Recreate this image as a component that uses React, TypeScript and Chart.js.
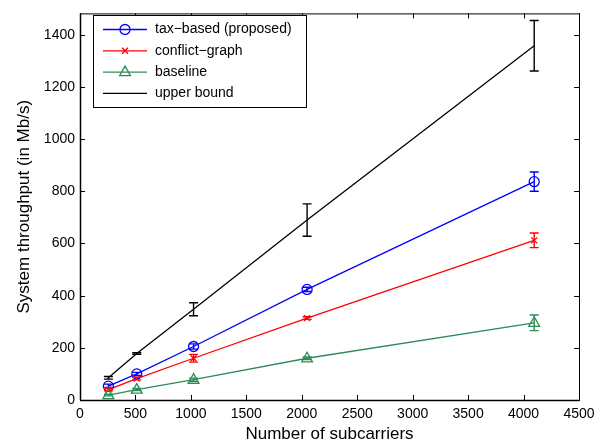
import React, { useEffect, useRef } from "react";
import { Chart, registerables } from "chart.js";

Chart.register(...registerables);

const subcarriers = [256, 512, 1024, 2048, 4096];
const taxBased = [53, 100, 205, 424, 837];
const taxBasedErr = [8, 6, 10, 8, 37];
const conflictGraph = [40, 82, 160, 314, 612];
const conflictGraphErr = [5, 5, 15, 5, 28];
const baseline = [19, 40, 78, 160, 296];
const baselineErr = [3, 4, 6, 5, 30];
const upperBound = [85, 178, 348, 690, 1358];
const upperBoundErr = [5, 3, 25, 62, 97];
const xTicks = [0, 500, 1000, 1500, 2000, 2500, 3000, 3500, 4000, 4500];
const yTicks = [0, 200, 400, 600, 800, 1000, 1200, 1400];

const FONT = "'Liberation Sans', Arial, Helvetica, sans-serif";
const BLUE = "#0000ff";
const RED = "#ff0000";
const GREEN = "#2e8b57";
const BLACK = "#000000";

const seriesDefs = [
  { label: "tax\u2212based (proposed)", values: taxBased, errs: taxBasedErr, color: BLUE, marker: "circle" },
  { label: "conflict\u2212graph", values: conflictGraph, errs: conflictGraphErr, color: RED, marker: "cross" },
  { label: "baseline", values: baseline, errs: baselineErr, color: GREEN, marker: "triangle" },
  { label: "upper bound", values: upperBound, errs: upperBoundErr, color: BLACK, marker: "none" },
];

function drawMarker(ctx: CanvasRenderingContext2D, marker: string, x: number, y: number, color: string) {
  ctx.save();
  ctx.strokeStyle = color;
  ctx.lineWidth = 1.3;
  ctx.beginPath();
  if (marker === "circle") {
    ctx.arc(x, y, 5, 0, Math.PI * 2);
  } else if (marker === "cross") {
    const r = 3;
    ctx.moveTo(x - r, y - r);
    ctx.lineTo(x + r, y + r);
    ctx.moveTo(x + r, y - r);
    ctx.lineTo(x - r, y + r);
  } else if (marker === "triangle") {
    const r = 6;
    ctx.moveTo(x, y - r);
    ctx.lineTo(x + r * 0.9, y + r * 0.6);
    ctx.lineTo(x - r * 0.9, y + r * 0.6);
    ctx.closePath();
  }
  ctx.stroke();
  ctx.restore();
}

const matlabPlugin = {
  id: "matlabStyle",
  afterDatasetsDraw(chart: any) {
    const ctx: CanvasRenderingContext2D = chart.ctx;
    const xs = chart.scales.x;
    const ys = chart.scales.y;
    const area = chart.chartArea;

    // error bars
    seriesDefs.forEach((s, i) => {
      const meta = chart.getDatasetMeta(i);
      ctx.save();
      ctx.strokeStyle = s.color;
      ctx.lineWidth = 1.4;
      meta.data.forEach((pt: any, j: number) => {
        const x = pt.x;
        const yt = ys.getPixelForValue(s.values[j] + s.errs[j]);
        const yb = ys.getPixelForValue(s.values[j] - s.errs[j]);
        const w = 4.5;
        ctx.beginPath();
        ctx.moveTo(x, yt);
        ctx.lineTo(x, yb);
        ctx.moveTo(x - w, yt);
        ctx.lineTo(x + w, yt);
        ctx.moveTo(x - w, yb);
        ctx.lineTo(x + w, yb);
        ctx.stroke();
      });
      ctx.restore();
      meta.data.forEach((pt: any) => drawMarker(ctx, s.marker, pt.x, pt.y, s.color));
    });

    // box and inward ticks
    ctx.save();
    ctx.strokeStyle = "#000";
    ctx.lineWidth = 1;
    ctx.strokeRect(area.left + 0.5, area.top + 0.5, area.right - area.left, area.bottom - area.top);
    const tl = 5;
    ctx.beginPath();
    xTicks.forEach((v) => {
      const x = Math.round(xs.getPixelForValue(v)) + 0.5;
      ctx.moveTo(x, area.bottom);
      ctx.lineTo(x, area.bottom - tl);
      ctx.moveTo(x, area.top);
      ctx.lineTo(x, area.top + tl);
    });
    yTicks.forEach((v) => {
      const y = Math.round(ys.getPixelForValue(v)) + 0.5;
      ctx.moveTo(area.left, y);
      ctx.lineTo(area.left + tl, y);
      ctx.moveTo(area.right, y);
      ctx.lineTo(area.right - tl, y);
    });
    ctx.stroke();
    ctx.lineWidth = 1.5;
    ctx.beginPath();
    ctx.moveTo(area.left, area.bottom + 0.5);
    ctx.lineTo(area.right, area.bottom + 0.5);
    ctx.moveTo(area.left + 0.5, area.top);
    ctx.lineTo(area.left + 0.5, area.bottom);
    ctx.stroke();
    ctx.restore();

    // legend
    ctx.save();
    const lx = 93, ly = 15, lw = 213, lh = 92;
    ctx.fillStyle = "#fff";
    ctx.fillRect(lx, ly, lw, lh);
    ctx.strokeStyle = "#000";
    ctx.lineWidth = 1;
    ctx.strokeRect(lx + 0.5, ly + 0.5, lw, lh);
    ctx.font = `14px ${FONT}`;
    ctx.textBaseline = "middle";
    seriesDefs.forEach((s, i) => {
      const y = 29.5 + i * 21.3;
      ctx.strokeStyle = s.color;
      ctx.lineWidth = 1.3;
      ctx.beginPath();
      ctx.moveTo(103, y);
      ctx.lineTo(147, y);
      ctx.stroke();
      drawMarker(ctx, s.marker, 125, y, s.color);
      ctx.fillStyle = "#000";
      ctx.fillText(s.label, 155, y);
    });
    ctx.restore();
  },
};

export default function App() {
  const canvasRef = useRef<HTMLCanvasElement | null>(null);

  useEffect(() => {
    if (!canvasRef.current) return;
    const chart = new Chart(canvasRef.current, {
      type: "line",
      data: {
        datasets: seriesDefs.map((s) => ({
          label: s.label,
          data: subcarriers.map((x, i) => ({ x, y: s.values[i] })),
          borderColor: s.color,
          backgroundColor: s.color,
          borderWidth: 1.3,
          pointRadius: 0,
          fill: false,
          tension: 0,
        })),
      },
      options: {
        animation: false,
        responsive: false,
        maintainAspectRatio: false,
        layout: { padding: { top: 6, right: 29, left: 0, bottom: 0 } },
        plugins: { legend: { display: false }, tooltip: { enabled: false } },
        scales: {
          x: {
            type: "linear",
            min: 0,
            max: 4500,
            afterBuildTicks: (scale: any) => {
              scale.ticks = xTicks.map((v) => ({ value: v }));
            },
            afterFit: (scale: any) => {
              scale.height = 45;
            },
            grid: { display: false, drawTicks: false },
            border: { display: false },
            ticks: {
              padding: 6,
              color: "#000",
              font: { family: FONT, size: 14 },
              maxRotation: 0,
              callback: (v: any) => String(v),
            },
            title: {
              display: true,
              text: "Number of subcarriers",
              color: "#000",
              font: { family: FONT, size: 17 },
              padding: { top: 0, bottom: 0 },
            },
          },
          y: {
            type: "linear",
            min: 0,
            max: 1482,
            afterBuildTicks: (scale: any) => {
              scale.ticks = yTicks.map((v) => ({ value: v }));
            },
            afterFit: (scale: any) => {
              scale.width = 80;
            },
            grid: { display: false, drawTicks: false },
            border: { display: false },
            ticks: {
              padding: 5,
              color: "#000",
              font: { family: FONT, size: 14 },
              callback: (v: any) => String(v),
            },
            title: {
              display: true,
              text: "System throughput (in Mb/s)",
              color: "#000",
              font: { family: FONT, size: 17 },
              padding: { top: 14, bottom: 0 },
            },
          },
        },
      },
      plugins: [matlabPlugin],
    });
    return () => chart.destroy();
  }, []);

  return (
    <div style={{ position: "fixed", left: 0, top: 0, width: 608, height: 445, background: "#fff" }}>
      <canvas ref={canvasRef} width={608} height={445} style={{ width: 608, height: 445 }} />
    </div>
  );
}
